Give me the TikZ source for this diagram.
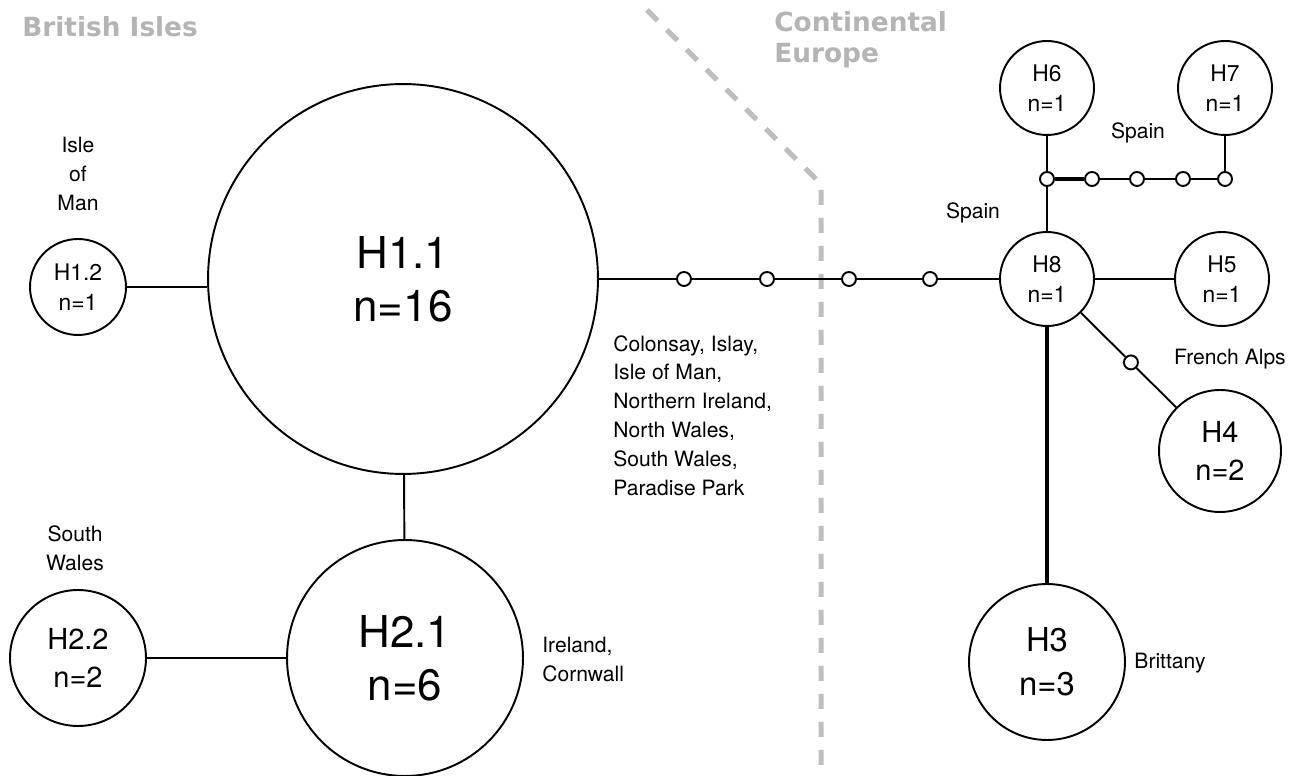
\documentclass[tikz,border=0pt]{standalone}
\usepackage{fontspec}
\setmainfont{TeX Gyre Heros}
\newfontfamily\headfont{DejaVu Sans}
\usetikzlibrary{calc}

\definecolor{regioncolor}{RGB}{180,180,180}
\definecolor{bordercolor}{RGB}{190,190,190}
\tikzset{
  %% hap : a haplotype circle
  hap/.style={
    circle,
    draw=black,
    line width=1.1pt,
    fill=white,
    inner sep=0pt,
    align=center
  },
  %% text sizes go with the size of the circle
  haphuge/.style={hap, font=\fontsize{25}{30}\selectfont},
  haplarge/.style={hap, font=\fontsize{18.7}{25}\selectfont},
  hapmid/.style={hap, font=\fontsize{16.5}{21.5}\selectfont},
  hapsmall/.style={hap, font=\fontsize{13}{17}\selectfont},
  %% mutation : a missing step on a branch
  mutation/.style={
    circle,
    draw=black,
    line width=1.1pt,
    fill=white,
    minimum size=0.28cm,
    inner sep=0pt
  },
  %% link : a branch between haplotypes
  link/.style={line width=1.1pt},
  boldlink/.style={line width=2.8pt},
  %% place : where a haplotype was found
  place/.style={
    align=center,
    inner sep=0pt,
    font=\fontsize{12}{16.4}\selectfont
  },
  %% region : grey heading of a region
  region/.style={
    align=left,
    inner sep=0pt,
    text=regioncolor,
    font=\headfont\bfseries\fontsize{15}{18}\selectfont
  },
  %% border : between the regions
  %% This is a path, use as
  %%    \draw [border] (a) -- (b);
  border/.style={bordercolor, line width=0.1cm, dash pattern=on 0.3cm off 0.26cm}
}

\begin{document}
\begin{tikzpicture}
  [x=0.02cm,
  y=-0.02cm]

  \useasboundingbox (0,0) rectangle (1306,776);

  %% Grid for orientation. Comment out for final figure!
  % \draw[help lines, green](0, 0) grid (1306, 776);

  %% Border between the regions
  \draw [border] (647,10) -- (821,184) -- (821,776);

  \node (british) [region, anchor=base west] at (22,37) {British Isles};
  \node (continental) [region, anchor=north west] at (774,11) {Continental\\Europe};

  %% British Isles
  \node (h11) [haphuge, minimum size=7.8cm] at (403,279) {H1.1\\n=16};
  \node (h12) [hapsmall, minimum size=1.92cm] at (78,287) {H1.2\\n=1};
  \node (h21) [haphuge, minimum size=4.72cm] at (405,658) {H2.1\\n=6};
  \node (h22) [hapmid, minimum size=2.72cm] at (78,658) {H2.2\\n=2};

  %% Continental Europe
  \node (h8) [hapsmall, minimum size=1.88cm] at (1047,279) {H8\\n=1};
  \node (h5) [hapsmall, minimum size=1.88cm] at (1222,279) {H5\\n=1};
  \node (h6) [hapsmall, minimum size=1.88cm] at (1047,88) {H6\\n=1};
  \node (h7) [hapsmall, minimum size=1.88cm] at (1225,88) {H7\\n=1};
  \node (h4) [hapmid, minimum size=2.44cm] at (1220,451) {H4\\n=2};
  \node (h3) [haplarge, minimum size=3.12cm] at (1047,662) {H3\\n=3};

  %% Missing steps
  \node (m1) [mutation] at (684,279) {};
  \node (m2) [mutation] at (767,279) {};
  \node (m3) [mutation] at (849,279) {};
  \node (m4) [mutation] at (930,279) {};

  \node (t1) [mutation] at (1047,179) {};
  \node (t2) [mutation] at (1092,179) {};
  \node (t3) [mutation] at (1137,179) {};
  \node (t4) [mutation] at (1183,179) {};
  \node (t5) [mutation] at (1225,179) {};

  \node (d1) [mutation] at ($(h8)!0.485!(h4)$) {};

  %% Connections
  \draw [link] (h12.east) -- (h12.east -| h11.west);
  \draw [link] (h11) -- (h21);
  \draw [link] (h22) -- (h21);
  \draw [link] (h11) -- (m1);
  \draw [link] (m1) -- (m2);
  \draw [link] (m2) -- (m3);
  \draw [link] (m3) -- (m4);
  \draw [link] (m4) -- (h8);
  \draw [link] (h8) -- (h5);
  \draw [link] (h8) -- (t1);
  \draw [link] (h6) -- (t1);
  \draw [boldlink] (t1) -- (t2);
  \draw [link] (t2) -- (t3);
  \draw [link] (t3) -- (t4);
  \draw [link] (t4) -- (t5);
  \draw [link] (t5) -- (h7);
  \draw [link] (h8) -- (d1);
  \draw [link] (d1) -- (h4);
  \draw [boldlink] (h8) -- (h3);

  %% Places
  \node (man) [place] at (78,174) {Isle\\of\\Man};
  \node (wales) [place] at (75,548) {South\\Wales};
  \node (isles) [place, align=left, anchor=north west] at (613,335) {%
    Colonsay, Islay,\\
    Isle of Man,\\
    Northern Ireland,\\
    North Wales,\\
    South Wales,\\
    Paradise Park};
  \node (ireland) [place, align=left, anchor=north west] at (542,637) {%
    Ireland,\\Cornwall};
  \node (spain top) [place] at (1138,133) {Spain};
  \node (spain) [place] at (973,213) {Spain};
  \node (alps) [place] at (1230,359) {French Alps};
  \node (brittany) [place] at (1170,663) {Brittany};

\end{tikzpicture}
\end{document}
